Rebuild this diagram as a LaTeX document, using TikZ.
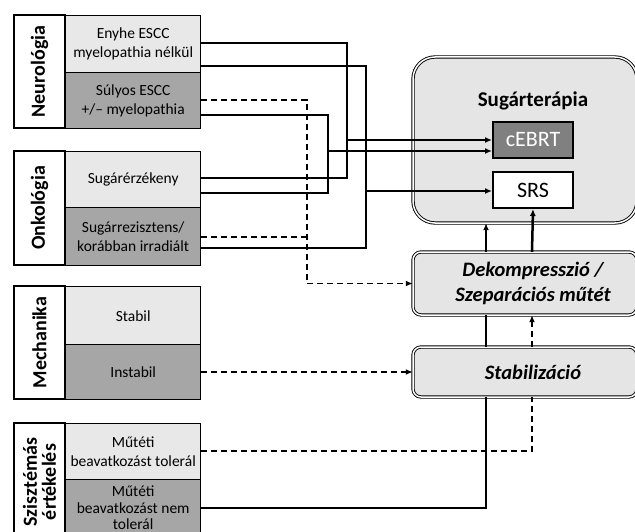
\documentclass[tikz,border=0pt]{standalone}
\usepackage{fontspec}
\setmainfont{Carlito}
\usetikzlibrary{arrows.meta}
\begin{document}
\begin{tikzpicture}[x=1pt,y=-1pt,
  rowbase/.style={draw, line width=1.4pt, minimum width=135pt, anchor=north west, align=center, inner sep=0pt, font=\fontsize{15.5}{19}\selectfont},
  lightrow/.style={rowbase, fill=gray!18},
  darkrow/.style={rowbase, fill=gray!70},
  catlab/.style={draw, line width=1.4pt, fill=white, rotate=90, minimum height=51pt, inner sep=0pt, align=center, font=\fontsize{20}{19}\selectfont\bfseries},
  conn/.style={line width=1.5pt},
  dconn/.style={line width=1.5pt, dash pattern=on 6pt off 4pt},
  arr/.style={-{Latex[length=7pt,width=6pt]}},
  dbox/.style={draw, line width=0.9pt, double=white, double distance=1.5pt, fill=gray!20},
  ibox/.style={draw, line width=2pt, minimum width=80pt, minimum height=36pt, inner sep=0pt, font=\fontsize{22}{24}\selectfont}
]
\useasboundingbox (0,0) rectangle (635,532);
\clip (0,0) rectangle (635,532);

% ---- left blocks ----
\node[catlab, minimum width=113pt] (neuro) at (39.5,71.5) {Neurológia};
\node[lightrow, minimum height=57pt] (enyhe) at (65,15) {Enyhe ESCC\\myelopathia nélkül};
\node[darkrow, minimum height=56pt] (sulyos) at (65,72) {Súlyos ESCC\\+/– myelopathia};

\node[catlab, minimum width=114pt] (onko) at (39.5,208) {Onkológia};
\node[lightrow, minimum height=56pt] (sugerz) at (65,151) {Sugárérzékeny};
\node[darkrow, minimum height=58pt] (sugrez) at (65,207) {Sugárrezisztens/\\korábban irradiált};

\node[catlab, minimum width=113pt] (mech) at (39.5,342.5) {Mechanika};
\node[lightrow, minimum height=58pt] (stabil) at (65,286) {Stabil};
\node[darkrow, minimum height=55pt] (instabil) at (65,344) {Instabil};

\node[catlab, minimum width=118pt] (sziszt) at (39.5,482) {Szisztémás\\értékelés};
\node[lightrow, minimum height=56pt] (tol) at (65,423) {Műtéti\\beavatkozást tolerál};
\node[darkrow, minimum height=56pt, font=\fontsize{15.5}{16.5}\selectfont] (nemtol) at (65,479) {Műtéti\\beavatkozást nem\\tolerál};

% ---- right boxes ----
\path[dbox, rounded corners=22pt] (413,57) rectangle (637,223);
\node[minimum width=224pt, minimum height=166pt, inner sep=0pt] (sugar) at (525,140) {};
\node[font=\fontsize{21}{24}\selectfont\bfseries] (sugartitle) at (533,101) {Sugárterápia};
\node[ibox, fill=gray, text=white] (cebrt) at (533,140) {cEBRT};
\node[ibox, fill=white] (srs) at (533,190) {SRS};

\path[dbox, rounded corners=8pt] (413,252) rectangle (637,315);
\node[minimum width=224pt, minimum height=63pt, inner sep=0pt] (dekomp) at (525,283.5) {};
\node[font=\fontsize{20.5}{25}\selectfont\bfseries\itshape, align=center] (dekomptext) at (533,283.5) {Dekompresszió /\\Szeparációs műtét};

\path[dbox, rounded corners=8pt] (413,347) rectangle (637,397);
\node[minimum width=224pt, minimum height=50pt, inner sep=0pt] (stab) at (525,372) {};
\node[font=\fontsize{20.5}{24}\selectfont\bfseries\itshape] (stabtext) at (533,372) {Stabilizáció};

% ---- junction x positions ----
\coordinate (ja) at (347,0);
\coordinate (jb) at (328,0);
\coordinate (jc) at (366,0);
\coordinate (jd) at (307,0);
\coordinate (je) at (532,0);
\coordinate (jf) at (486,0);
% ---- line y positions ----
\coordinate (y43) at (0,43);
\coordinate (y66) at (0,66);
\coordinate (y100) at (0,100);
\coordinate (y115) at (0,115);
\coordinate (y140) at (0,140);
\coordinate (y151) at (0,151);
\coordinate (y178) at (0,178);
\coordinate (y191) at (0,191);
\coordinate (y193) at (0,193);
\coordinate (y237) at (0,237);
\coordinate (y248) at (0,248);
\coordinate (y451) at (0,451);
\coordinate (y508) at (0,508);

% ---- solid connectors ----
\draw[conn] (enyhe.east |- y43) -- (ja |- y43) -- (ja |- y178) -- (sugerz.east |- y178);
\draw[conn, arr] (ja |- y140) -- (cebrt.west |- y140);
\draw[conn] (sulyos.east |- y115) -- (jb |- y115) -- (jb |- y193) -- (sugerz.east |- y193);
\draw[conn, arr] (jb |- y151) -- (cebrt.west |- y151);
\draw[conn] (enyhe.east |- y66) -- (jc |- y66) -- (jc |- y248) -- (sugrez.east |- y248);
\draw[conn, arr] (jc |- y191) -- (srs.west |- y191);

% ---- dashed connectors ----
\draw[dconn] (sulyos.east |- y100) -- (jd |- y100) -- (dekomp.west -| jd);
\draw[dconn, arr] (dekomp.west -| jd) -- (dekomp.west);
\draw[dconn] (sugrez.east |- y237) -- (jd |- y237);
\draw[dconn, arr] (instabil.east |- stab.west) -- (stab.west);
\draw[dconn] (tol.east |- y451) -- (je |- y451) -- (stab.south -| je);
\draw[dconn, arr] (stab.north -| je) -- (dekomp.south -| je);

% ---- through line from "nem tolerál" ----
\draw[conn] (nemtol.east |- y508) -- (jf |- y508) -- (stab.south -| jf);
\draw[conn] (stab.north -| jf) -- (dekomp.south -| jf);
\draw[conn, arr] (dekomp.north -| jf) -- (sugar.south -| jf);
\draw[line width=2.5pt, arr] (dekomp.north -| je) -- (srs.south);
\end{tikzpicture}
\end{document}
